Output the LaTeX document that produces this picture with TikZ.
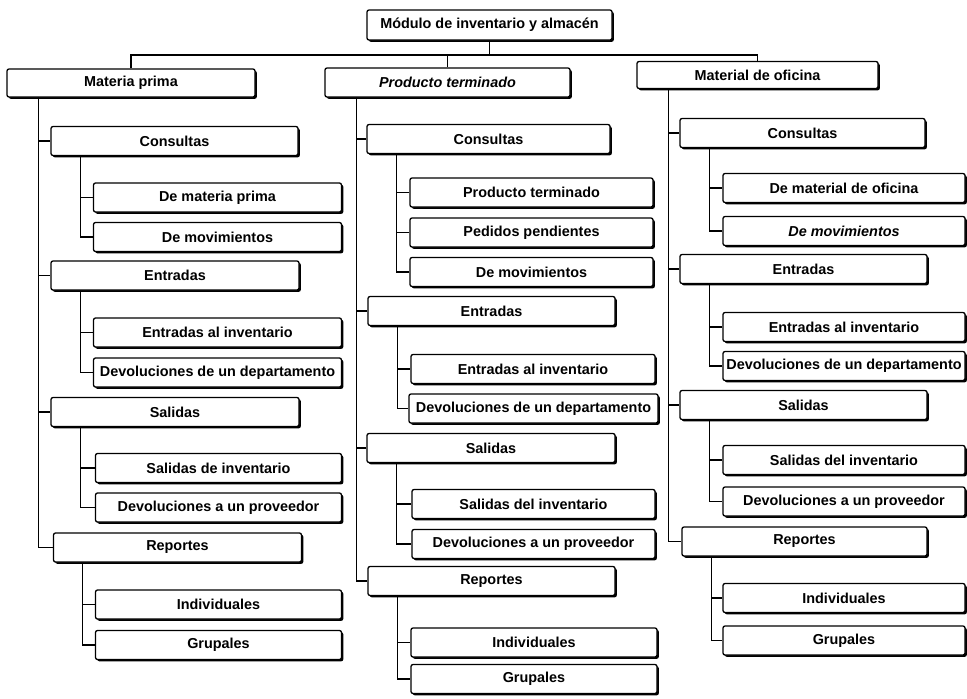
\documentclass[tikz,border=0pt]{standalone}
\usepackage{fontspec}
\setmainfont{Liberation Sans}
\usetikzlibrary{shadows}
\begin{document}
\begin{tikzpicture}[x=1pt,y=-1pt,
  box/.style={draw, line width=1.3pt, rounded corners=2pt, fill=white,
    minimum height=29pt, inner sep=0pt, align=center,
    font=\fontsize{14.4}{16}\selectfont\bfseries,
    drop shadow={shadow xshift=1.8pt, shadow yshift=-1.8pt, fill=black, opacity=1}},
  conn/.style={draw, line width=1.2pt},
  w1/.style={minimum width=248pt},
  w2/.style={minimum width=247pt},
  w3/.style={minimum width=246pt}]
\useasboundingbox (0,0) rectangle (967,699);

% root
\node[box, minimum width=245pt, minimum height=30pt] (root) at (489.5,25) {Módulo de inventario y almacén};

% first level
\node[box, w1, minimum height=28pt] (mp) at (131,83) {Materia prima};
\node[box, minimum width=245pt] (pt) at (447.5,82.5) {\itshape Producto terminado};
\node[box, minimum width=241pt, minimum height=27pt] (mo) at (757.5,75) {Material de oficina};

\coordinate (bus) at (489.5,55);
\draw[conn] (root.south) -- (root.south |- bus);
\draw[conn] (mp.north) |- (bus) -| (mo.north);
\draw[conn] (pt.north) -- (pt.north |- bus);

% column: materia prima
\node[box, w2] (mc)  at (174.5,141)   {Consultas};
\node[box, w1] (mc1) at (217.5,197.5) {De materia prima};
\node[box, w1] (mc2) at (217.5,237)   {De movimientos};
\node[box, w1] (me)  at (175,275.5)   {Entradas};
\node[box, w1] (me1) at (217.5,332.5) {Entradas al inventario};
\node[box, w1] (me2) at (217.5,372.5) {Devoluciones de un departamento};
\node[box, w1] (ms)  at (175,412)     {Salidas};
\node[box, w3] (ms1) at (218.5,468)   {Salidas de inventario};
\node[box, w3] (ms2) at (218.5,507.5) {Devoluciones a un proveedor};
\node[box, w1] (mr)  at (177.5,547.5) {Reportes};
\node[box, w3] (mr1) at (218.5,604.5) {Individuales};
\node[box, w3] (mr2) at (218.5,645)   {Grupales};

% column: producto terminado
\node[box, minimum width=243pt] (pc)  at (488.5,139)  {Consultas};
\node[box, minimum width=243pt] (pc1) at (531.5,192.5) {Producto terminado};
\node[box, minimum width=243pt] (pc2) at (531.5,232.5) {Pedidos pendientes};
\node[box, minimum width=243pt] (pc3) at (531.5,272)   {De movimientos};
\node[box, w2] (pe)  at (491.5,311)   {Entradas};
\node[box, minimum width=244pt] (pe1) at (533,369)     {Entradas al inventario};
\node[box, minimum width=249pt] (pe2) at (533.5,408.5) {Devoluciones de un departamento};
\node[box, w1] (ps)  at (491,448)     {Salidas};
\node[box, minimum width=243pt] (ps1) at (533.5,504)   {Salidas del inventario};
\node[box, minimum width=243pt] (ps2) at (533.5,544)   {Devoluciones a un proveedor};
\node[box, w2] (pr)  at (491.5,581)   {Reportes};
\node[box, minimum width=246pt] (pr1) at (534,642.5)   {Individuales};
\node[box, minimum width=246pt] (pr2) at (534,679)     {Grupales};

% column: material de oficina
\node[box, minimum width=245pt] (oc)  at (802.5,133)   {Consultas};
\node[box, minimum width=242pt] (oc1) at (844,188)     {De material de oficina};
\node[box, minimum width=242pt] (oc2) at (844,231)     {\itshape De movimientos};
\node[box, w2] (oe)  at (803.5,269)   {Entradas};
\node[box, minimum width=242pt] (oe1) at (844,327)     {Entradas al inventario};
\node[box, minimum width=242pt] (oe2) at (844,366)     {Devoluciones de un departamento};
\node[box, w2] (os)  at (803.5,405)   {Salidas};
\node[box, minimum width=242pt] (os1) at (844,460)     {Salidas del inventario};
\node[box, minimum width=242pt] (os2) at (844,501.5)   {Devoluciones a un proveedor};
\node[box, minimum width=245pt] (or)  at (804.5,541.5) {Reportes};
\node[box, minimum width=242pt] (or1) at (844,598)     {Individuales};
\node[box, minimum width=242pt] (or2) at (844,640.5)   {Grupales};

% elbow connectors from each parent to its children
\foreach \p/\kids in {mp/{mc,me,ms,mr}, pt/{pc,pe,ps,pr}, mo/{oc,oe,os,or}}
  \foreach \k in \kids
    \draw[conn] ([xshift=32pt]\p.south west) |- (\k.west);
\foreach \p/\kids in {mc/{mc1,mc2}, me/{me1,me2}, ms/{ms1,ms2}, mr/{mr1,mr2},
                      pc/{pc1,pc2,pc3}, pe/{pe1,pe2}, ps/{ps1,ps2}, pr/{pr1,pr2},
                      oc/{oc1,oc2}, oe/{oe1,oe2}, os/{os1,os2}, or/{or1,or2}}
  \foreach \k in \kids
    \draw[conn] ([xshift=30pt]\p.south west) |- (\k.west);
\end{tikzpicture}
\end{document}
